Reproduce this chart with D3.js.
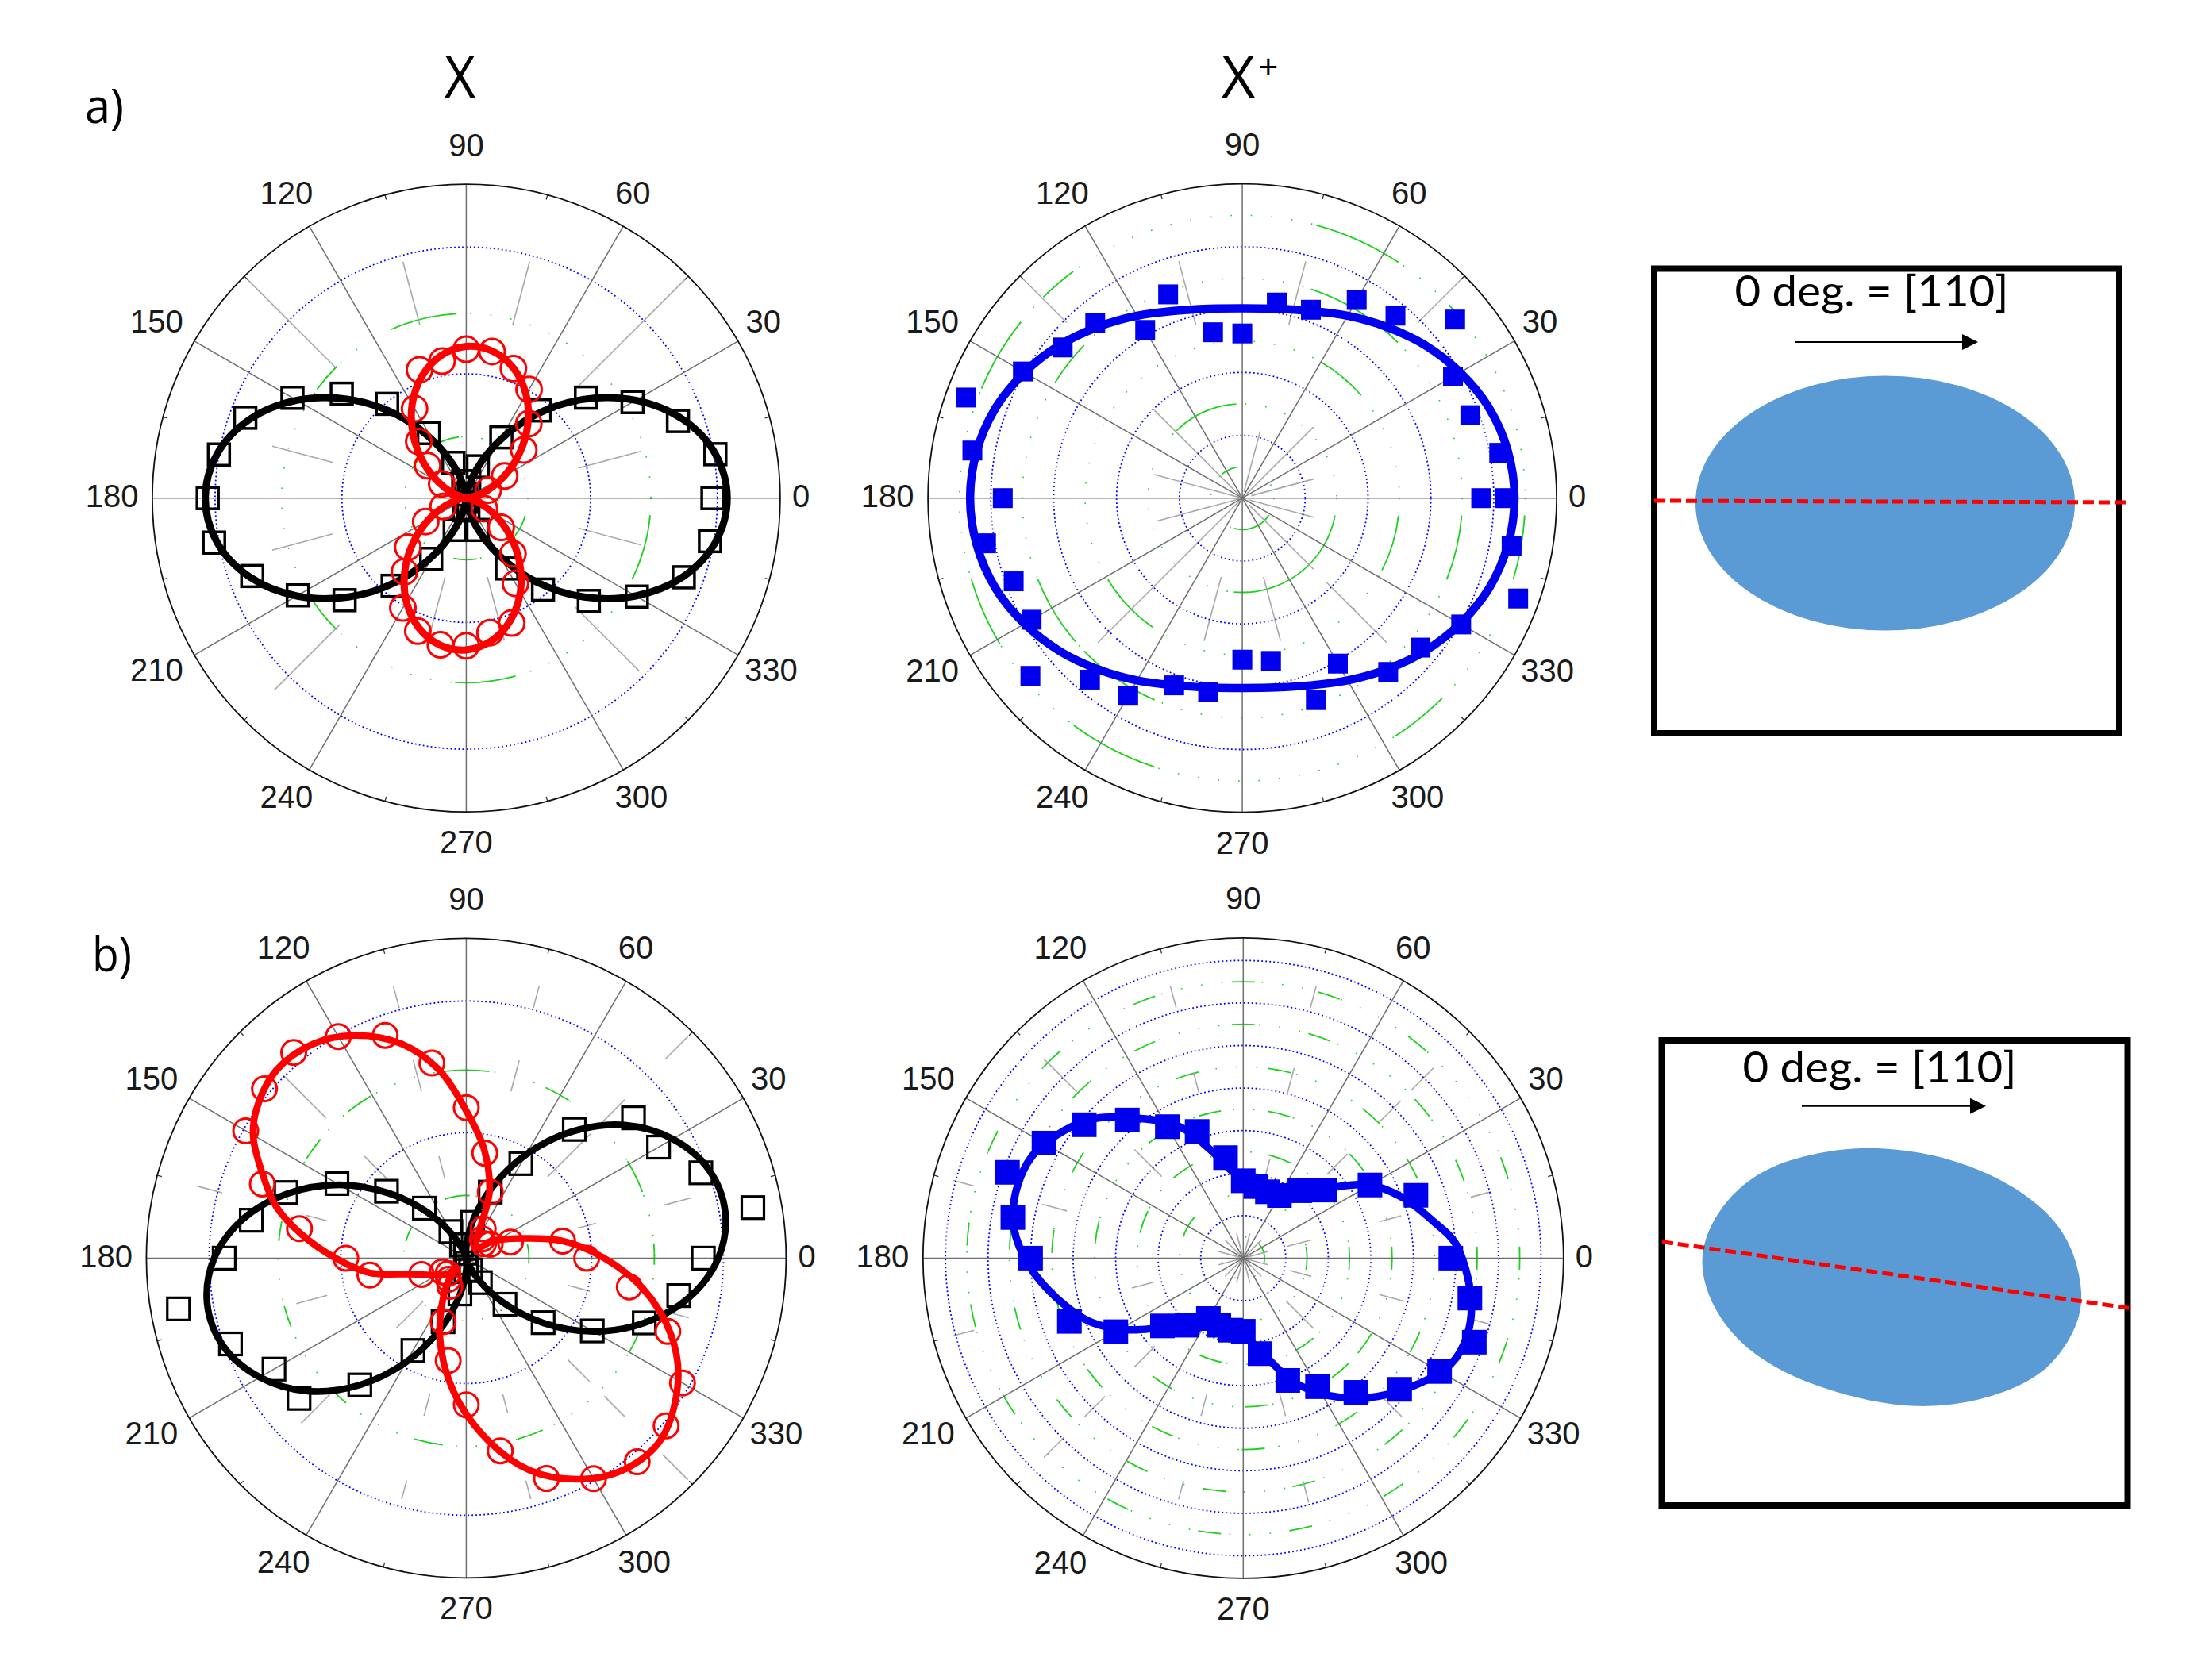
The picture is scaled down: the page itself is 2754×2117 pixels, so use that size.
<!DOCTYPE html>
<html><head><meta charset="utf-8">
<script src="https://cdn.jsdelivr.net/npm/d3@7"></script>
<style>html,body{margin:0;padding:0;background:#fff}svg{display:block}</style>
</head><body><svg id="c" width="2754" height="2117"></svg>
<script>
// ---------- shared categories ----------
const spokeAngles=[0,30,60,90,120,150,180,210,240,270,300,330];
const tickLabels=["0","30","60","90","120","150","180","210","240","270","300","330"];
const minorAngles=[15,45,75,105,135,165,195,225,255,285,315,345];
const ang10=[0,10,20,30,40,50,60,70,80,90,100,110,120,130,140,150,160,170,180,190,200,210,220,230,240,250,260,270,280,290,300,310,320,330,340,350];
const ang10Full=[...ang10,360];

// ---------- panel a, X ----------
const aXBlackPts=[2.0,2.055,1.83,1.56,1.27,.93,.57,.275,.14,.03,.14,.305,.61,1.0,1.32,1.63,1.91,2.04,2.10,2.08,1.85,1.58,1.29,.93,.57,.275,.10,.03,.10,.275,.66,.97,1.30,1.60,1.88,2.01];
const aXBlackFit=[2.12,2.056,1.872,1.59,1.25,.89,.54,.255,.065,0,.065,.255,.54,.89,1.25,1.59,1.872,2.056,2.12,2.056,1.872,1.59,1.25,.89,.54,.255,.065,0,.065,.255,.54,.89,1.25,1.59,1.872,2.056];
const aXRedAngles=[20,30,40,50,60,70,80,90,100,110,120,130,140,150,200,210,220,230,240,250,260,270,280,290,300,310,320,330];
const aXRedPts=[.19,.36,.61,.79,1.02,1.12,1.21,1.21,1.13,1.11,.84,.60,.41,.23,.2,.38,.62,.78,1.03,1.15,1.21,1.20,1.11,1.08,.80,.59,.37,.17];
const aXRedFit=[.002,.058,.181,.356,.564,.777,.972,1.123,1.214,1.233,1.177,1.054,.879,.671,.457,.263,.112,.021,.002,.058,.181,.356,.564,.777,.972,1.123,1.214,1.233,1.177,1.054,.879,.671,.457,.263,.112,.021];
const aXRings=[1.01,2.04];
const aXGreenRings=[.5,1.5];
const aXGreen=[[1.5,93,113.5],[1.5,134.5,143.9],[1.5,266.5,285.5],[1.5,333.9,354.7],[1.5,213.9,225.4],[.5,258,280],[.5,322.5,343.5],[.5,97,114],[.5,135,150]];
const aXGray=[[15,.37,.575],[45,.5,.99],[75,.57,.78],[105,.57,.78],[135,.59,.99],[165,.44,.64],[195,.44,.64],[225,.57,.865],[255,.26,.47],[285,.26,.47],[315,.49,.78],[345,.37,.575]];

// ---------- panel a, X+ ----------
const aTrionPts=[4.18,4.15,3.86,3.87,4.42,3.79,3.64,3.19,3.16,2.62,2.68,3.45,3.09,3.64,3.73,4.03,4.68,4.36,3.81,4.14,3.87,3.87,4.40,3.77,3.63,3.17,3.13,2.57,2.63,3.42,3.04,3.61,3.70,4.02,4.67,4.35,3.80];
const aTrionFit=[4.33,4.29,4.18,4.0,3.79,3.56,3.35,3.17,3.06,3.02,3.06,3.17,3.35,3.56,3.79,4.0,4.18,4.29,4.33,4.29,4.18,4.0,3.79,3.56,3.35,3.17,3.06,3.02,3.06,3.17,3.35,3.56,3.79,4.0,4.18,4.29];
const aTrionRings=[1,2,3,4];
const aTrionGreenRings=[.5,1.5,2.5,3.5,4.5];
const aTrionGreen=[[4.5,56.5,74.8],[4.5,343.3,356.5],[4.5,302.8,315],[4.5,233.4,251.9],[4.5,196.7,211],[4.5,141.5,157.2],[4.5,126.7,134.7],[4.5,41,43],
[3.5,45,71.8],[3.5,338.3,355.5],[3.5,201.7,220.7],[3.5,224,246.5],[3.5,136,148],
[2.5,41.5,60],[2.5,332.7,353.6],[2.5,211.3,235.2],
[1.5,93.7,134.2],[1.5,264.9,349.4],[.5,101,130],[.5,255,328]];
const aTrionGray=[[15,.03,.235],[45,.02,.32],[45,.79,.99],[75,.57,.78],[75,.02,.22],[105,.57,.78],[135,.01,.395],[135,.79,.99],[165,.01,.29],[195,.01,.28],[225,.01,.65],[255,.26,.47],[285,.26,.47],[315,.03,.32],[315,.375,.65],[345,.02,.235]];

// ---------- panel b, X ----------
const bXBlackPts=[1.89,2.32,1.99,1.77,1.74,1.34,.87,.56,.29,.11,.04,.11,.245,.52,.83,1.19,1.53,1.74,1.93,2.33,2.0,1.77,1.74,1.32,.85,.54,.29,.10,.04,.10,.225,.48,.80,1.16,1.51,1.72];
const bXBlackFit=[2.009,2.097,2.059,1.90,1.65,1.32,.955,.60,.30,.093,.003,.042,.205,.47,.805,1.17,1.51,1.805,2.009,2.097,2.059,1.90,1.65,1.32,.955,.60,.30,.093,.003,.042,.205,.47,.805,1.17,1.51,1.805];
const bXRedPts=[.96,.78,.375,.22,.18,.2,.27,.56,.85,1.20,1.58,1.89,2.04,2.14,2.10,2.03,1.73,1.35,.96,.78,.38,.22,.19,.22,.26,.54,.83,1.17,1.56,1.87,2.03,2.12,2.08,1.99,1.71,1.32];
const bXRedFitAngles=[45,70.7,80.7,90.4,98.6,107,116.8,125.6,135.3,144.7,150.5,158.6,164.8,171.7,180.4,188.6,196,219.8,225,233.6,251,264.6,277,286.8,296.5,306.2,317.2,330,339.6,350.2,.6,10.4,20,33];
const bXRedFit=[.12,.56,.88,1.19,1.53,1.79,1.99,2.10,2.13,2.05,1.95,1.73,1.57,1.33,1.03,.78,.46,.20,.11,.26,.65,1.07,1.47,1.77,1.97,2.10,2.12,1.95,1.74,1.43,1.08,.77,.46,.25];
const bXRings=[1,2.05];
const bXGreenRings=[.5,1.5];
const bXGreen=[[1.5,83,97],[1.5,57,65],[1.5,20.6,31],[1.5,358,364.5],[1.5,330,335.8],[1.5,285.9,294],[1.5,254,262.8],[1.5,224,230.3],[1.5,194.8,201.4],[1.5,168.7,174.8],[1.5,140.8,148],[1.5,120.6,129],[.5,87,110],[.5,355,373],[.5,150.9,164.5]];
const bXGray=[[15,.64,.73],[15,.36,.42],[45,.88,.98],[45,.36,.55],[45,.6,.7],[75,.81,.88],[75,.54,.64],[105,.81,.88],[105,.54,.64],[105,.26,.33],[135,.62,.81],[135,.35,.45],[165,.79,.87],[165,.45,.52],[195,.45,.55],[225,.59,.73],[225,.19,.31],[255,.44,.51],[255,.72,.78],[285,.44,.5],[285,.72,.78],[315,.45,.545],[315,.61,.7],[315,.87,.98],[345,.33,.4],[345,.64,.72]];

// ---------- panel b, X+ ----------
const bTrionAngles=[0,20,30,40,50,60,70,80,90,100,110,120,130,140,150,160,170,180,200,210,220,230,240,250,260,270,280,290,300,310,320,330,340,350];
const bTrionPts=[4.88,4.32,3.44,2.49,2.07,1.70,1.66,1.71,1.82,2.40,3.17,3.57,4.24,4.88,5.41,5.90,5.50,5.0,4.35,3.46,2.48,2.06,1.64,1.68,1.72,1.72,2.28,3.06,3.49,4.12,4.80,5.33,5.78,5.41];
const bTrionFitAngles=[4,10.5,20.8,30.3,40.4,60,78.9,96,106.7,116,127,136.6,144.5,154,164,172.8,182,192,203,212,220,237.6,260.7,273,284,292.4,302,311.8,323,333,341,350.4];
const bTrionFit=[5.0,4.58,4.01,3.42,2.53,1.75,1.70,2.01,2.65,3.45,4.12,4.78,5.17,5.51,5.57,5.43,5.04,4.49,3.87,3.18,2.55,1.83,1.68,1.89,2.45,3.16,3.81,4.40,5.0,5.48,5.57,5.43];
const bTrionRings=[1,2,3,4,5,6,7];
const bTrionGreenRings=[.5,1.5,2.5,3.5,4.5,5.5,6.5];
const bTrionDashes=[
 [6.5,[90,72,51,19,0,340,322,303,282,263,243,212,192,175,155,134,111]],
 [5.5,[90,71,40,22,0,337,310,285,263,243,220,195,175,155,134,115]],
 [4.5,[79,48,28,334,303,273,245,219,195,175,150,107]],
 [3.5,[76,40,0,325,311,275,237,170,125,103]],
 [2.5,[160,0,305,252,125,70]],
 [1.5,[150,0]],[.5,[15]]];
const bTrionGray=[[15,.44,.51],[15,.735,.8],[15,.14,.22],[45,.6,.695],[45,.74,.84],[45,.37,.46],[75,.535,.615],[75,.81,.88],[75,.24,.32],[105,.535,.6],[105,.81,.88],[135,.36,.48],[135,.735,.88],[165,.87,.94],[165,.57,.65],[195,.87,.94],[195,.29,.36],[225,.79,.88],[225,.61,.7],[225,.39,.48],[255,.72,.78],[255,.44,.51],[285,.44,.51],[285,.72,.79],[315,.62,.7],[315,.19,.31],[345,.44,.52],[345,.73,.8],[345,.15,.22],
 [15,.01,.08],[45,.01,.08],[75,.01,.08],[105,.01,.08],[135,.01,.08],[165,.01,.08],[195,.01,.08],[225,.01,.08],[255,.01,.08],[285,.01,.08],[315,.01,.08],[345,.01,.08]];

// ---------- insets ----------
const insetLabel="0 deg. = [110]";
const blobAngles=[-4.4,9.8,22,37.9,56.9,76.8,96.8,111.5,131,146.2,161,175,190,204.4,219,237,259.6,280,300.7,319.2,331.8,345.7];
const blobRadii=[243,232,216,192,172,163,166,175,199,222,238,246,229,207,184,165,158,166,185,212,232,243];

// ---------- drawing ----------
const svg=d3.select("#c");
const tickFont="'Liberation Sans',Arial,sans-serif", bodyFont="'Open Sans',sans-serif";
const toRad=d3.scaleLinear().domain([0,360]).range([Math.PI/2,Math.PI/2-2*Math.PI]);

function panel(o){
  const g=svg.append("g").attr("transform",`translate(${o.cx},${o.cy})`);
  const r=d3.scaleLinear().domain([0,o.rmax]).range([0,o.R]);
  const frac=d3.scaleLinear().domain([0,1]).range([0,o.R]);
  const xy=(a,v)=>d3.pointRadial(toRad(a),r(v));
  g.selectAll(".gr").data(o.greenRings).join("circle").attr("r",d=>r(d)).attr("fill","none").attr("stroke","#22cc22").attr("stroke-width",1.6).attr("stroke-dasharray","1.6 24");
  const arc=d3.arc();
  const arcs=(o.green||[]).slice();
  (o.dashes||[]).forEach(([rv,cs])=>cs.forEach(c=>{const hw=14.5/r(rv)*180/Math.PI;arcs.push([rv,c-hw,c+hw]);}));
  g.selectAll(".ga").data(arcs).join("path").attr("d",d=>{
    const a=toRad(d[1]),b=toRad(d[2]);
    return arc({innerRadius:r(d[0]),outerRadius:r(d[0]),startAngle:a,endAngle:b});
  }).attr("fill","none").attr("stroke","#1fd01f").attr("stroke-width",1.8);
  g.selectAll(".mn").data(o.gray).join("line")
    .attr("x1",d=>d3.pointRadial(toRad(d[0]),frac(d[1]))[0]).attr("y1",d=>d3.pointRadial(toRad(d[0]),frac(d[1]))[1])
    .attr("x2",d=>d3.pointRadial(toRad(d[0]),frac(d[2]))[0]).attr("y2",d=>d3.pointRadial(toRad(d[0]),frac(d[2]))[1])
    .attr("stroke","#a8a8a8").attr("stroke-width",1.6);
  g.selectAll(".br").data(o.rings).join("circle").attr("r",d=>r(d)).attr("fill","none").attr("stroke","#0000ff").attr("stroke-width",1.8).attr("stroke-dasharray","1.8 3.2");
  g.selectAll(".sp").data(spokeAngles).join("line")
    .attr("x1",0).attr("y1",0)
    .attr("x2",d=>d3.pointRadial(toRad(d),o.R)[0]).attr("y2",d=>d3.pointRadial(toRad(d),o.R)[1])
    .attr("stroke","#6e6e6e").attr("stroke-width",1.5);
  g.selectAll(".tk").data(minorAngles).join("line")
    .attr("x1",d=>d3.pointRadial(toRad(d),o.R)[0]).attr("y1",d=>d3.pointRadial(toRad(d),o.R)[1])
    .attr("x2",d=>d3.pointRadial(toRad(d),o.R-6)[0]).attr("y2",d=>d3.pointRadial(toRad(d),o.R-6)[1])
    .attr("stroke","#333").attr("stroke-width",1.3);
  g.append("circle").attr("r",o.R).attr("fill","none").attr("stroke","#111").attr("stroke-width",1.8);
  g.selectAll(".lb").data(spokeAngles).join("text").text((d,i)=>tickLabels[i])
    .attr("font-family",tickFont).attr("font-size",40).attr("fill","#1a1a1a").attr("text-anchor","middle").attr("dominant-baseline","central")
    .each(function(d){
      const t=d*Math.PI/180,c=Math.abs(d%180-90)<1?0:Math.cos(t),s=Math.sin(t),hw=this.getComputedTextLength()/2;
      const shift=c===0?0:(d===60?-8:(d===180?0.5:-3));
      d3.select(this).attr("x",(o.R+18+hw)*c+shift).attr("y",-(o.R+42)*s-2.8-1.8*s-3*Math.pow(Math.abs(s),5));
    });
  const line=d3.lineRadial().angle(d=>toRad(d[0])).radius(d=>r(d[1])).curve(d3.curveCatmullRomClosed.alpha(.5));
  o.series.forEach(s=>{
    const pts=s.ang.map((a,i)=>[a,s.pts[i]]);
    const m=s.size;
    if(s.shape==="circle"){
      g.append("g").selectAll("circle").data(pts).join("circle").attr("cx",d=>xy(d[0],d[1])[0]).attr("cy",d=>xy(d[0],d[1])[1]).attr("r",m/2)
       .attr("fill","none").attr("stroke",s.color).attr("stroke-width",s.mw);
    }else{
      g.append("g").selectAll("rect").data(pts).join("rect").attr("x",d=>xy(d[0],d[1])[0]-m/2).attr("y",d=>xy(d[0],d[1])[1]-m/2).attr("width",m).attr("height",m)
       .attr("fill",s.filled?s.color:"none").attr("stroke",s.filled?"none":s.color).attr("stroke-width",s.mw);
    }
    const fit=s.fitAng.map((a,i)=>[a,s.fit[i]]);
    g.append("path").attr("d",line(fit)).attr("fill","none").attr("stroke",s.color).attr("stroke-width",s.lw).attr("stroke-linejoin","round");
  });
}

panel({cx:587.4,cy:627.7,R:395.5,rmax:2.55,rings:aXRings,greenRings:aXGreenRings,green:aXGreen,gray:aXGray,
 series:[{ang:ang10,pts:aXBlackPts,fitAng:ang10,fit:aXBlackFit,color:"#000",shape:"square",size:27,mw:3.5,lw:9},
         {ang:aXRedAngles,pts:aXRedPts,fitAng:ang10,fit:aXRedFit,color:"#ff0000",shape:"circle",size:32,mw:3,lw:9}]});
panel({cx:1565.1,cy:627.7,R:396,rmax:5,rings:aTrionRings,greenRings:aTrionGreenRings,green:aTrionGreen,gray:aTrionGray,
 series:[{ang:ang10Full,pts:aTrionPts,fitAng:ang10,fit:aTrionFit,color:"#0000ee",shape:"square",size:25,filled:true,lw:10.5}]});
panel({cx:587.4,cy:1585.4,R:403,rmax:2.55,rings:bXRings,greenRings:bXGreenRings,green:bXGreen,gray:bXGray,
 series:[{ang:ang10,pts:bXBlackPts,fitAng:ang10,fit:bXBlackFit,color:"#000",shape:"square",size:28,mw:3.2,lw:8.5},
         {ang:ang10,pts:bXRedPts,fitAng:bXRedFitAngles,fit:bXRedFit,color:"#ff0000",shape:"circle",size:31,mw:3,lw:8.5}]});
panel({cx:1566.3,cy:1585.4,R:403.5,rmax:7.53,rings:bTrionRings,greenRings:bTrionGreenRings,dashes:bTrionDashes,gray:bTrionGray,
 series:[{ang:bTrionAngles,pts:bTrionPts,fitAng:bTrionFitAngles,fit:bTrionFit,color:"#0000ee",shape:"square",size:31,filled:true,lw:9.5}]});

function txt(t,x,y,size,len,anchor){const e=svg.append("text").text(t).attr("x",x).attr("y",y).attr("font-family",bodyFont).attr("font-size",size).attr("fill","#000").attr("text-anchor",anchor||"start");if(len)e.attr("textLength",len).attr("lengthAdjust","spacingAndGlyphs");return e;}
txt("X",560,123,73,39);
const xp=txt("X",1539,123,73);
xp.append("tspan").text("+").attr("font-size",44).attr("dx",4).attr("dy",-23);
txt("a)",107,155,60,49);
txt("b)",116,1224,60,50);

function inset(o){
  const g=svg.append("g");
  if(o.blob){
    const line=d3.lineRadial().angle((d,i)=>toRad(blobAngles[i])).radius(d=>d).curve(d3.curveBasisClosed);
    g.append("path").attr("transform",`translate(${o.bx},${o.by})`).attr("d",line(blobRadii)).attr("fill","#5b9bd5");
  } else {
    g.append("ellipse").attr("cx",o.bx).attr("cy",o.by).attr("rx",239).attr("ry",160.5).attr("fill","#5b9bd5");
  }
  g.append("rect").attr("x",o.x0).attr("y",o.y0).attr("width",o.x1-o.x0).attr("height",o.y1-o.y0).attr("fill","none").attr("stroke","#000").attr("stroke-width",8);
  g.append("line").attr("x1",o.d[0]).attr("y1",o.d[1]).attr("x2",o.d[2]).attr("y2",o.d[3]).attr("stroke","#ff0000").attr("stroke-width",5).attr("stroke-dasharray","14 6");
  g.append("text").text(insetLabel).attr("x",o.tx).attr("y",o.ty).attr("font-family","Lato,'Open Sans',sans-serif").attr("font-size",54).attr("text-anchor","middle").attr("textLength",345).attr("lengthAdjust","spacingAndGlyphs").attr("fill","#000");
  g.append("line").attr("x1",o.a[0]).attr("x2",o.a[1]-10).attr("y1",o.a[2]).attr("y2",o.a[2]).attr("stroke","#000").attr("stroke-width",2);
  g.append("path").attr("d",d3.line()([[o.a[1],o.a[2]],[o.a[1]-20,o.a[2]-10],[o.a[1]-20,o.a[2]+10]])+"Z").attr("fill","#000");
}
inset({x0:2084,x1:2670,y0:338.5,y1:924,bx:2375,by:634,d:[2084,631,2681,633],tx:2358,ty:385.5,a:[2261,2492,431]});
inset({blob:true,x0:2093.5,x1:2680.5,y0:1311,y1:1897,bx:2383,by:1610.4,d:[2094,1564.7,2683,1648.4],tx:2368,ty:1363.5,a:[2270,2502,1393.7]});
</script></body></html>
